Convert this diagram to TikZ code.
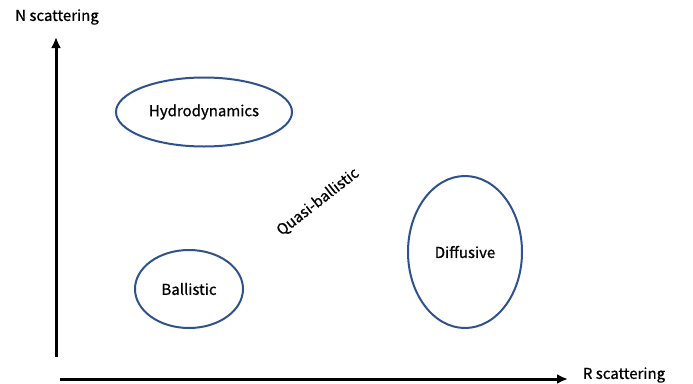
\documentclass[tikz,border=0pt]{standalone}
\usepackage{fontspec}
\setmainfont{Noto Sans CJK SC}[BoldFont=Noto Sans CJK SC, BoldFeatures={FakeBold=0.7}]
\usepackage{tikz}
\usetikzlibrary{shapes.geometric,arrows.meta,positioning}

\tikzset{
    regime/.style={ellipse, draw={rgb,255:red,47;green,82;blue,143}, line width=2pt, inner sep=0pt, font=\fontsize{15}{17}\selectfont\bfseries},
    axis/.style={line width=3pt, arrows={-Latex[width=10pt, length=11pt]}},
    axislabel/.style={font=\fontsize{15}{17}\selectfont\bfseries}
}

\begin{document}
\begin{tikzpicture}[x=1pt, y=-1pt]
        \useasboundingbox (0,0) rectangle (693,383);

        \coordinate (yo) at (56,357);
        \coordinate (yend) at (56,37);
        \coordinate (xo) at (60,379);
        \coordinate (xend) at (568,379);

        \draw[axis] (yo) -- (yend);
        \draw[axis] (xo) -- (xend);

        \node[axislabel] (nlabel) at (57,17) {N scattering};
        \node[axislabel] (rlabel) at (624,375) {R scattering};

        \node[regime, minimum width=176pt, minimum height=69pt] (hydro) at (204,112) {Hydrodynamics};
        \node[regime, minimum width=108pt, minimum height=78pt] (ball) at (189,289) {Ballistic};
        \node[regime, minimum width=114pt, minimum height=152pt] (diff) at (465,252) {Diffusive};

        \node[axislabel, rotate=38] (quasi) at (318,202) {Quasi-ballistic};
\end{tikzpicture}
\end{document}
